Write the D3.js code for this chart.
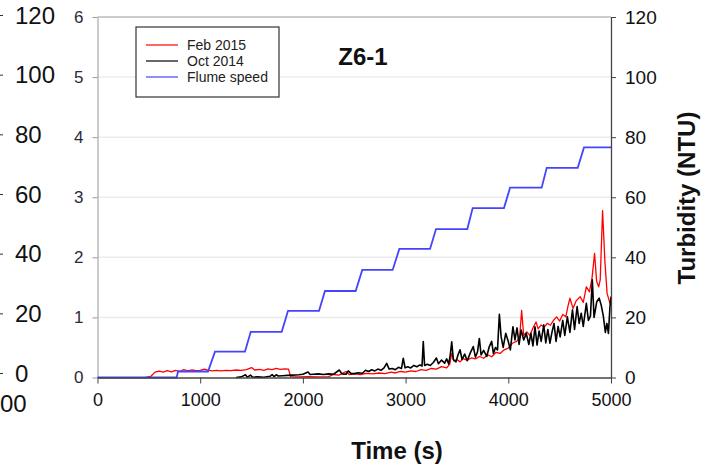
<!DOCTYPE html>
<html>
<head>
<meta charset="utf-8">
<script src="https://cdn.jsdelivr.net/npm/d3@7"></script>
<style>
  body { margin: 0; background: #fff; }
  svg { font-family: "Liberation Sans", Arial, sans-serif; }
</style>
</head>
<body>
<div id="chart"></div>
<script>
const timeTicks = [0, 1000, 2000, 3000, 4000, 5000];
const speedTicks = [0, 1, 2, 3, 4, 5, 6];
const ntuTicks = [0, 20, 40, 60, 80, 100, 120];
const legendLabels = ["Feb 2015", "Oct 2014", "Flume speed"];
const legendColors = ["#ff0000", "#000000", "#4444ff"];

// flume speed (m/s) vs time (s)
const flumeSpeed = [
  [0, 0], [771, 0], [784, 0.1], [1076, 0.1], [1144, 0.43], [1436, 0.43],
  [1492, 0.76], [1794, 0.76], [1855, 1.11], [2157, 1.11], [2215, 1.44],
  [2514, 1.44], [2578, 1.79], [2874, 1.79], [2939, 2.14], [3238, 2.14],
  [3296, 2.47], [3601, 2.47], [3653, 2.82], [3958, 2.82], [4017, 3.16],
  [4325, 3.16], [4374, 3.49], [4676, 3.49], [4737, 3.83], [5000, 3.83]
];

// turbidity (NTU), Feb 2015
const feb2015 = [
  [470, 0], [520, 0.4], [560, 1.8], [600, 2.1], [640, 1.8], [680, 2.3], [720, 1.9],
  [760, 2.4], [800, 2.0], [840, 2.6], [880, 2.2], [920, 2.5], [960, 2.3], [1000, 2.4],
  [1040, 2.8], [1080, 2.4], [1120, 2.2], [1160, 2.4], [1200, 2.2], [1250, 2.4],
  [1300, 2.3], [1350, 2.5], [1400, 2.4], [1450, 2.6], [1500, 3.3], [1530, 2.5],
  [1580, 2.7], [1620, 2.4], [1660, 2.9], [1700, 2.6], [1740, 3.0], [1780, 2.7],
  [1820, 2.9], [1860, 2.8], [1880, 0.3], [1950, 0.2], [2050, 0.3], [2150, 0.2],
  [2250, 0.3], [2300, 1.0], [2350, 0.8], [2420, 2.0], [2450, 1.0], [2500, 1.2],
  [2560, 1.0], [2620, 1.4], [2680, 1.2], [2740, 1.5], [2800, 1.3], [2860, 1.8],
  [2900, 1.5], [2950, 2.0], [3000, 1.8], [3050, 2.2], [3100, 2.0], [3150, 2.6],
  [3200, 2.4], [3250, 3.0], [3300, 2.8], [3350, 3.6], [3400, 3.2], [3430, 4.5],
  [3450, 8.0], [3470, 5.5], [3500, 6.0], [3530, 5.2], [3560, 6.3], [3600, 5.8],
  [3640, 6.5], [3680, 6.2], [3720, 7.0], [3760, 6.4], [3800, 7.5], [3840, 6.9],
  [3880, 8.4], [3920, 8.0], [3960, 9.2], [4000, 9.8], [4040, 11.4], [4080, 12.0],
  [4110, 13.2], [4130, 22.3], [4150, 14.0], [4180, 15.2], [4210, 14.0], [4240, 16.5],
  [4270, 18.5], [4290, 16.2], [4320, 17.5], [4350, 16.8], [4380, 18.0], [4410, 17.4],
  [4440, 19.0], [4470, 20.2], [4500, 18.8], [4530, 21.0], [4560, 20.2], [4580, 23.6],
  [4600, 26.4], [4630, 23.0], [4660, 25.5], [4700, 26.9], [4730, 25.0], [4760, 30.2],
  [4790, 28.5], [4815, 33.0], [4840, 41.3], [4860, 32.0], [4880, 30.2], [4895, 32.5],
  [4918, 55.5], [4940, 39.0], [4962, 28.0], [4990, 24.7]
];

// turbidity (NTU), Oct 2014
const oct2014 = [
  [1350, 0], [1400, 0.2], [1440, 0.9], [1460, 0.1], [1490, 0.8], [1510, 0.1],
  [1560, 0.2], [1620, 0.1], [1680, 0.4], [1700, 1.0], [1720, 0.3], [1740, 0.9],
  [1760, 0.5], [1800, 0.6], [1850, 0.7], [1900, 0.8], [1960, 0.9], [2000, 1.1],
  [2050, 1.8], [2070, 1.0], [2100, 1.1], [2150, 1.2], [2200, 1.0], [2250, 1.2],
  [2300, 1.1], [2354, 2.5], [2380, 1.2], [2420, 1.1], [2442, 2.2], [2470, 1.3],
  [2500, 1.3], [2540, 1.6], [2580, 1.4], [2610, 2.4], [2640, 2.0], [2670, 2.6],
  [2700, 2.2], [2730, 2.8], [2760, 2.4], [2790, 3.2], [2816, 4.7], [2840, 2.8],
  [2870, 3.0], [2900, 2.6], [2930, 3.4], [2960, 3.0], [2977, 6.4], [2995, 3.2],
  [3020, 3.6], [3050, 3.2], [3080, 4.0], [3110, 3.6], [3140, 4.2], [3160, 3.8],
  [3172, 12.0], [3185, 4.0], [3210, 4.4], [3240, 4.0], [3270, 5.0], [3300, 6.5],
  [3320, 4.6], [3350, 5.8], [3380, 4.8], [3400, 6.2], [3420, 4.5], [3435, 7.5],
  [3449, 11.9], [3465, 6.0], [3490, 5.2], [3510, 7.5], [3530, 9.2], [3550, 6.0],
  [3575, 7.8], [3600, 5.6], [3630, 8.2], [3659, 10.3], [3680, 6.8], [3700, 8.5],
  [3718, 13.0], [3735, 7.5], [3760, 9.0], [3790, 7.0], [3815, 10.3], [3838, 12.0],
  [3855, 8.0], [3875, 10.0], [3895, 9.2], [3913, 21.0], [3930, 13.6], [3950, 10.0],
  [3975, 14.7], [4000, 12.0], [4020, 9.2], [4045, 16.9], [4065, 12.5], [4085, 16.5],
  [4105, 11.0], [4125, 15.8], [4150, 12.5], [4175, 14.7], [4200, 11.0], [4220, 14.7],
  [4240, 10.5], [4260, 16.9], [4280, 10.8], [4300, 15.5], [4320, 12.0], [4345, 17.5],
  [4365, 11.5], [4385, 16.0], [4405, 11.4], [4425, 15.0], [4445, 18.0], [4465, 12.0],
  [4485, 17.0], [4505, 13.5], [4530, 19.0], [4550, 14.0], [4575, 20.2], [4600, 15.0],
  [4625, 22.5], [4645, 16.0], [4670, 23.6], [4690, 18.0], [4710, 21.4], [4730, 17.0],
  [4760, 24.7], [4780, 19.0], [4800, 20.5], [4818, 32.5], [4835, 20.0], [4861, 25.2],
  [4885, 26.4], [4905, 24.0], [4925, 20.5], [4945, 15.0], [4960, 18.0], [4975, 14.7],
  [4990, 23.6], [5000, 26.9]
];

const width = 702, height = 465;
const plotLeft = 97.5, plotRight = 611, plotTop = 17, plotBottom = 377.5;

let svg = d3.select("#chart").append("svg")
  .attr("width", width)
  .attr("height", height);

let x = d3.scaleLinear().domain([0, 5000]).range([plotLeft, plotRight]);
let ySpeed = d3.scaleLinear().domain([0, 6]).range([plotBottom, plotTop]);
let yNtu = d3.scaleLinear().domain([0, 120]).range([plotBottom, plotTop]);
let plain = d3.format("d");

// leftover of the neighbouring panel, cut by the figure edge
let side = d3.scaleLinear().domain([0, 120]).range([373, 15]);
let sideAxis = svg.append("g").attr("transform", "translate(3,0)")
  .call(d3.axisLeft(side).tickValues(ntuTicks).tickSize(6).tickFormat(""));
sideAxis.select(".domain").remove();
sideAxis.selectAll(".tick line").attr("stroke", "#333");
svg.append("g").selectAll("text")
  .data(ntuTicks)
  .join("text")
  .attr("x", 15)
  .attr("y", d => side(d) + 8.5)
  .attr("font-size", "24px")
  .attr("fill", "#111")
  .text(d => d);
svg.append("text")
  .attr("x", 0).attr("y", 412)
  .attr("font-size", "24px")
  .attr("fill", "#111")
  .text("00");

// gridlines
svg.append("g").selectAll("line")
  .data(speedTicks.slice(1, -1))
  .join("line")
  .attr("x1", plotLeft).attr("x2", plotRight)
  .attr("y1", d => ySpeed(d)).attr("y2", d => ySpeed(d))
  .attr("stroke", "#ececec")
  .attr("stroke-width", 1.5);

// top border
svg.append("line")
  .attr("x1", plotLeft).attr("x2", plotRight)
  .attr("y1", plotTop).attr("y2", plotTop)
  .attr("stroke", "#999");

// left axis (speed)
let axL = svg.append("g").attr("transform", `translate(${plotLeft},0)`)
  .call(d3.axisLeft(ySpeed).tickValues(speedTicks).tickFormat(plain)
    .tickSize(5).tickSizeOuter(0).tickPadding(9));
axL.select(".domain").attr("stroke", "#999");
axL.selectAll(".tick line").attr("stroke", "#999");
axL.selectAll("text").attr("font-size", "17px").attr("fill", "#2a2a3a")
  .attr("font-family", "Liberation Sans, Arial, sans-serif");

// series
let line = (ys) => d3.line().x(d => x(d[0])).y(d => ys(d[1]));

svg.append("path").datum(feb2015)
  .attr("d", line(yNtu))
  .attr("fill", "none")
  .attr("stroke", legendColors[0])
  .attr("stroke-width", 1.3)
  .attr("stroke-linejoin", "round");

svg.append("path").datum(oct2014)
  .attr("d", line(yNtu))
  .attr("fill", "none")
  .attr("stroke", legendColors[1])
  .attr("stroke-width", 1.6)
  .attr("stroke-linejoin", "round");

svg.append("path").datum(flumeSpeed)
  .attr("d", line(ySpeed))
  .attr("fill", "none")
  .attr("stroke", legendColors[2])
  .attr("stroke-width", 1.8);

// bottom axis (time)
let axB = svg.append("g").attr("transform", `translate(0,${plotBottom})`)
  .call(d3.axisBottom(x).tickValues(timeTicks).tickFormat(plain)
    .tickSize(6).tickSizeOuter(0).tickPadding(10));
axB.select(".domain").attr("stroke", "#444").attr("stroke-width", 1.3);
axB.selectAll(".tick line").attr("stroke", "#444");
axB.selectAll("text").attr("font-size", "18px").attr("fill", "#111")
  .attr("font-family", "Liberation Sans, Arial, sans-serif");

// right axis (turbidity)
let axR = svg.append("g").attr("transform", `translate(${plotRight},0)`)
  .call(d3.axisRight(yNtu).tickValues(ntuTicks).tickFormat(plain)
    .tickSize(5).tickSizeOuter(0).tickPadding(9));
axR.select(".domain").attr("stroke", "#444").attr("stroke-width", 1.3);
axR.selectAll(".tick line").attr("stroke", "#444");
axR.selectAll("text").attr("font-size", "19px").attr("fill", "#111")
  .attr("font-family", "Liberation Sans, Arial, sans-serif");

// titles
svg.append("text")
  .attr("x", 397).attr("y", 459)
  .attr("text-anchor", "middle")
  .attr("font-size", "24px")
  .attr("font-weight", "bold")
  .attr("fill", "#111")
  .text("Time (s)");

svg.append("text")
  .attr("transform", "translate(695,198) rotate(-90)")
  .attr("text-anchor", "middle")
  .attr("font-size", "24px")
  .attr("font-weight", "bold")
  .attr("fill", "#111")
  .text("Turbidity (NTU)");

svg.append("text")
  .attr("x", 363).attr("y", 65)
  .attr("text-anchor", "middle")
  .attr("font-size", "24px")
  .attr("font-weight", "bold")
  .attr("fill", "#111")
  .text("Z6-1");

// legend
let legend = svg.append("g").attr("transform", "translate(136,27)");
legend.append("rect")
  .attr("width", 143).attr("height", 70)
  .attr("fill", "#fff")
  .attr("stroke", "#333")
  .attr("stroke-width", 1.2);
legendLabels.forEach(function (label, i) {
  let yy = 18 + i * 16;
  legend.append("line")
    .attr("x1", 10).attr("x2", 42)
    .attr("y1", yy).attr("y2", yy)
    .attr("stroke", legendColors[i])
    .attr("stroke-width", 1.2);
  legend.append("text")
    .attr("x", 51).attr("y", yy + 5)
    .attr("font-size", "14px")
    .attr("fill", "#222")
    .text(label);
});
</script>
</body>
</html>
